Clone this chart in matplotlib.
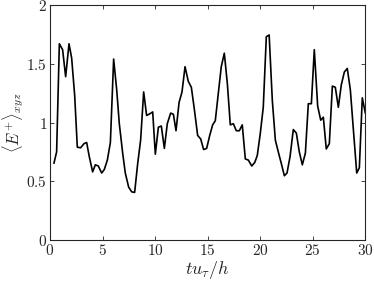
import matplotlib
matplotlib.use('Agg')
import matplotlib.pyplot as plt
import numpy as np

plt.rcParams['mathtext.fontset'] = 'cm'
plt.rcParams['font.family'] = 'serif'
plt.rcParams['font.serif'] = ['DejaVu Serif']

# time samples (t u_tau / h) and volume-averaged energy
t = [0.38, 0.63, 0.89, 1.2, 1.49, 1.81, 2.06, 2.35, 2.6, 2.92, 3.24, 3.49, 3.74,
     4.06, 4.32, 4.6, 4.92, 5.17, 5.46, 5.75, 6.06, 6.35, 6.6, 6.92, 7.17, 7.49,
     7.78, 8.06, 8.35, 8.63, 8.92, 9.2, 9.52, 9.78, 10.03, 10.32, 10.6, 10.89,
     11.17, 11.49, 11.75, 12.0, 12.29, 12.57, 12.86, 13.17, 13.46, 13.75, 14.06,
     14.35, 14.63, 14.92, 15.21, 15.49, 15.74, 16.03, 16.31, 16.6, 16.89, 17.17,
     17.46, 17.74, 18.03, 18.31, 18.6, 18.89, 19.21, 19.5, 19.74, 20.03, 20.31,
     20.6, 20.87, 21.17, 21.46, 21.74, 22.03, 22.32, 22.57, 22.86, 23.17, 23.46,
     23.74, 24.03, 24.32, 24.6, 24.89, 25.17, 25.49, 25.78, 26.03, 26.31, 26.6,
     26.89, 27.17, 27.46, 27.74, 28.03, 28.31, 28.6, 28.89, 29.21, 29.46, 29.74,
     30.03]
E = [0.655, 0.75, 1.67, 1.62, 1.39, 1.67, 1.55, 1.23, 0.79, 0.785, 0.82, 0.83, 0.71,
     0.58, 0.64, 0.63, 0.57, 0.60, 0.68, 0.83, 1.54, 1.28, 0.99, 0.74, 0.57, 0.45,
     0.41, 0.405, 0.65, 0.85, 1.26, 1.06, 1.075, 1.09, 0.73, 0.96, 0.97, 0.78,
     0.99, 1.08, 1.07, 0.93, 1.17, 1.26, 1.475, 1.35, 1.30, 1.11, 0.89,
     0.86, 0.77, 0.78, 0.89, 0.98, 1.015, 1.25, 1.475, 1.59, 1.33, 0.98,
     0.99, 0.93, 0.93, 0.98, 0.69, 0.68, 0.63, 0.66, 0.72, 0.91, 1.13,
     1.73, 1.745, 1.19, 0.85, 0.75, 0.65, 0.547, 0.57, 0.71, 0.94, 0.91,
     0.75, 0.64, 0.74, 1.16, 1.16, 1.62, 1.14, 1.02, 1.045, 0.775, 0.82,
     1.31, 1.30, 1.13, 1.32, 1.43, 1.46, 1.28, 0.94, 0.57, 0.615, 1.21,
     1.08]

xticks = [0, 5, 10, 15, 20, 25, 30]
yticks = [0, 0.5, 1, 1.5, 2]
ylabels = ['$0$', '$0.5$', '$1$', '$1.5$', '$2$']

fig = plt.figure(figsize=(3.74, 2.86), dpi=100)
ax = fig.add_axes([0.1337, 0.1608, 0.976 - 0.1337, 0.9825 - 0.1608])
ax.plot(t, E, color='black', lw=1.2, clip_on=True)

ax.set_xlim(0, 30)
ax.set_ylim(0, 2)
ax.set_xticks(xticks)
ax.set_xticklabels(['$%d$' % v for v in xticks])
ax.set_yticks(yticks)
ax.set_yticklabels(ylabels)
ax.tick_params(direction='in', top=True, right=True, length=3, width=0.6,
               colors='#262626', labelsize=11, pad=2)
for s in ax.spines.values():
    s.set_color('#262626')
    s.set_linewidth(0.8)

ax.set_xlabel(r'$tu_\tau/h$', fontsize=13, color='#262626', labelpad=1)
ax.set_ylabel(r'$\langle E^{+}\rangle_{xyz}$', fontsize=12, color='#262626', labelpad=0)

fig.savefig('out.png', dpi=100)
